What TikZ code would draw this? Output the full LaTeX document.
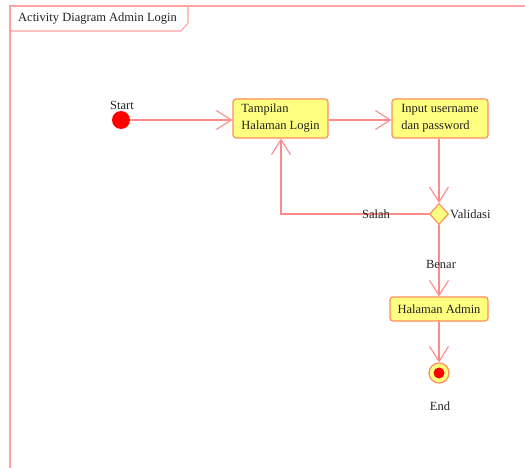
\documentclass[tikz,border=0pt]{standalone}
\usepackage{fontspec}
\setmainfont{Liberation Serif}
\usetikzlibrary{arrows.meta,shapes.geometric}
\definecolor{flow}{HTML}{FF8A8A}
\definecolor{boxline}{HTML}{FF8C5A}
\definecolor{boxfill}{HTML}{FFFF80}
\definecolor{txt}{HTML}{222222}
\tikzset{
  flowline/.style={draw=flow, line width=1.1pt},
  flowarrow/.style={flowline, -{Straight Barb[length=15pt,width=19pt,line width=1.1pt]}},
  actbox/.style={draw=boxline, fill=boxfill, line width=1.2pt, rounded corners=3pt,
    font=\fontsize{12.5}{17}\selectfont, text=txt, inner sep=0pt},
  lbl/.style={font=\fontsize{12.5}{15}\selectfont, text=txt, inner sep=0pt},
}
\begin{document}
\begin{tikzpicture}[x=1pt,y=-1pt]
\useasboundingbox (0,0) rectangle (525,468);
% frame and title tab
\draw[flow!80, line width=1.3pt] (10,468) -- (10,6) -- (525,6);
\draw[flow!80, line width=1.1pt] (10,31) -- (181,31) -- (188,23) -- (188,6);
\node[lbl, anchor=west] (title) at (18,19) {Activity Diagram Admin Login};

% start
\node[circle, fill=red, minimum size=18pt, inner sep=0pt] (start) at (121,120) {};
\node[lbl, anchor=south] (startlbl) at (122,110) {Start};

% activities
\node[actbox, minimum width=95pt, minimum height=39pt, align=left] (tampil) at (280.5,118.5)
  {Tampilan\\Halaman Login};
\node[actbox, minimum width=96pt, minimum height=39pt, align=left] (input) at (440,118.5)
  {Input username\\dan password};

% decision
\node[diamond, draw=boxline, fill=boxfill, line width=1.1pt, minimum width=19pt, minimum height=21pt, inner sep=0pt] (val) at (439,214) {};
\node[lbl, anchor=west] (vallbl) at (450,214) {Validasi};

\node[actbox, minimum width=98pt, minimum height=24pt, align=center] (admin) at (439,309) {Halaman Admin};

% end
\node[circle, draw=boxline, fill=boxfill, line width=1.2pt, minimum size=20pt, inner sep=0pt] (end) at (439,373) {};
\node[circle, fill=red, minimum size=11pt, inner sep=0pt] (endcore) at (end.center) {};
\node[lbl] (endlbl) at (440,406) {End};

% flows
\draw[flowarrow] (start) -- (tampil.west |- start);
\draw[flowarrow] (tampil.east |- start) -- (input.west |- start);
\draw[flowarrow] (input.south -| val) -- (val.north);
\draw[flowarrow] (val.west) -- (281,214) -- (tampil.south -| 281,0);
\node[lbl] (salah) at (376,214) {Salah};
\draw[flowarrow] (val.south) -- (admin.north);
\node[lbl] (benar) at (441,264) {Benar};
\draw[flowarrow] (admin.south) -- (end.north);
\end{tikzpicture}
\end{document}
